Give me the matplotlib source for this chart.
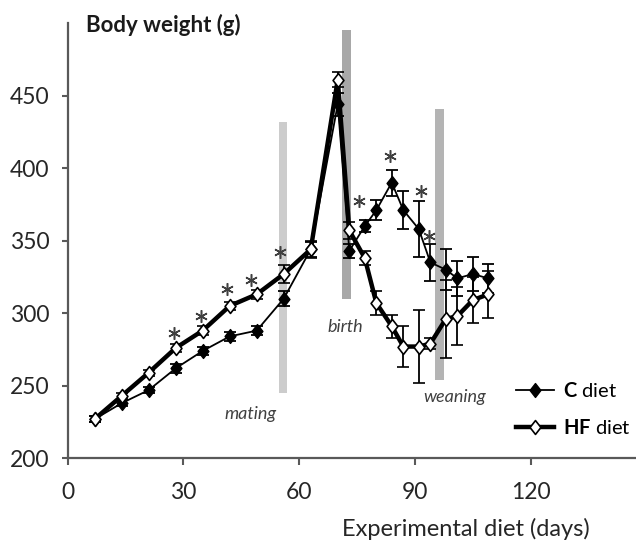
import numpy as np
import matplotlib
matplotlib.use("Agg")
import matplotlib.pyplot as plt
from matplotlib.lines import Line2D
from matplotlib.path import Path

plt.rcParams['font.family'] = ['Lato', 'DejaVu Sans']
plt.rcParams['mathtext.fontset'] = 'custom'
plt.rcParams['mathtext.rm'] = 'Lato'
plt.rcParams['mathtext.bf'] = 'Lato:bold'

# data
days = [7, 14, 21, 28, 35, 42, 49, 56, 63, 70, 73, 77, 80, 84, 87, 91, 94, 98, 101, 105, 109]
c_diet = [227, 238, 247, 262, 274, 284, 288, 310, 344, 444, 343, 360, 371, 390, 371, 358, 335, 330, 324, 327, 324]
c_err = [2, 2, 2, 3, 3, 3, 3, 5, 5, 8, 5, 4, 7, 9, 13, 19, 13, 14, 12, 12, 10]
hf_diet = [227, 243, 259, 276, 288, 305, 313, 327, 344, 461, 357, 338, 307, 291, 277, 277, 279, 296, 298, 309, 313]
hf_err = [2, 2, 2, 3, 3, 3, 3, 6, 6, 5, 6, 5, 8, 8, 14, 25, 4, 27, 20, 16, 16]

# significance marks
star_days = [27.5, 34.5, 41.2, 47.5, 55.0, 75.5, 83.6, 91.5, 93.7]
star_y = [286, 298, 316.6, 323, 342, 377.4, 408, 384, 353.5]

# event bars
event_names = ["mating", "birth", "weaning"]
event_days = [55.8, 72.2, 96.3]
event_low = [245, 310, 254]
event_high = [432, 495, 441]
event_colors = ["#cccccc", "#a8a8a8", "#b4b4b4"]
event_label_x = [47.3, 71.9, 100.4]
event_label_y = [230.6, 290.8, 242.5]

diamond = Path([(0, 1), (0.78, 0), (0, -1), (-0.78, 0), (0, 1)],
               [Path.MOVETO, Path.LINETO, Path.LINETO, Path.LINETO, Path.CLOSEPOLY])

fig = plt.figure(figsize=(6.36, 5.43), dpi=100)
ax = fig.add_axes([0.1064, 0.156, 0.8936, 0.8017])

ax.bar(event_days, np.array(event_high) - np.array(event_low), bottom=event_low,
       width=2.3, color=event_colors, zorder=1)
for name, x, y in zip(event_names, event_label_x, event_label_y):
    ax.text(x, y, name, style='italic', fontsize=13, color='#404040',
            ha='center', va='center')

ax.errorbar(days, c_diet, yerr=c_err, color='black', lw=1.3, elinewidth=1.3,
            capsize=4, capthick=1.3, marker=diamond, ms=10, mfc='black',
            mec='black', zorder=3)
ax.errorbar(days, hf_diet, yerr=hf_err, color='black', lw=3.2, elinewidth=1.3,
            capsize=4, capthick=1.3, marker=diamond, ms=10, mfc='white',
            mec='black', mew=1.2, zorder=4)

ax.plot(star_days, star_y, ls='none', marker=(6, 2, 0), ms=9, mew=1.1,
        color='#404040', zorder=5)

ax.set_xlim(0, 147.3)
ax.set_ylim(200, 500)
ax.set_xticks([0, 30, 60, 90, 120])
ax.set_yticks([200, 250, 300, 350, 400, 450])
for s in ['top', 'right']:
    ax.spines[s].set_visible(False)
for s in ['left', 'bottom']:
    ax.spines[s].set_color('#595959')
    ax.spines[s].set_linewidth(1.6)
ax.tick_params(axis='x', direction='out', length=5, width=1.5, color='#595959',
               labelsize=16.5, labelcolor='#262626', pad=12)
ax.tick_params(axis='y', direction='out', length=4, width=1.5, color='#595959',
               labelsize=16.5, labelcolor='#262626', pad=9)

fig.text(86 / 636, 1 - 25 / 543, "Body weight (g)", fontsize=16,
         weight='bold', color='#1a1a1a', ha='left', va='center')
fig.text(466 / 636, 1 - 529 / 543, "Experimental diet (days)", fontsize=17,
         color='#262626', ha='center', va='center')

handles = [Line2D([], [], color='black', lw=1.3, marker=diamond, ms=10,
                  mfc='black', mec='black'),
           Line2D([], [], color='black', lw=3.2, marker=diamond, ms=10,
                  mfc='white', mec='black', mew=1.2)]
fig.legend(handles, [r"$\mathbf{C}$ diet", r"$\mathbf{HF}$ diet"],
           loc='center left', bbox_to_anchor=(516 / 636, 1 - 409 / 543),
           frameon=False, fontsize=14.5, handlelength=1.9,
           handletextpad=0.45, labelspacing=0.85, borderpad=0,
           borderaxespad=0)

fig.savefig("out.png", dpi=100)
